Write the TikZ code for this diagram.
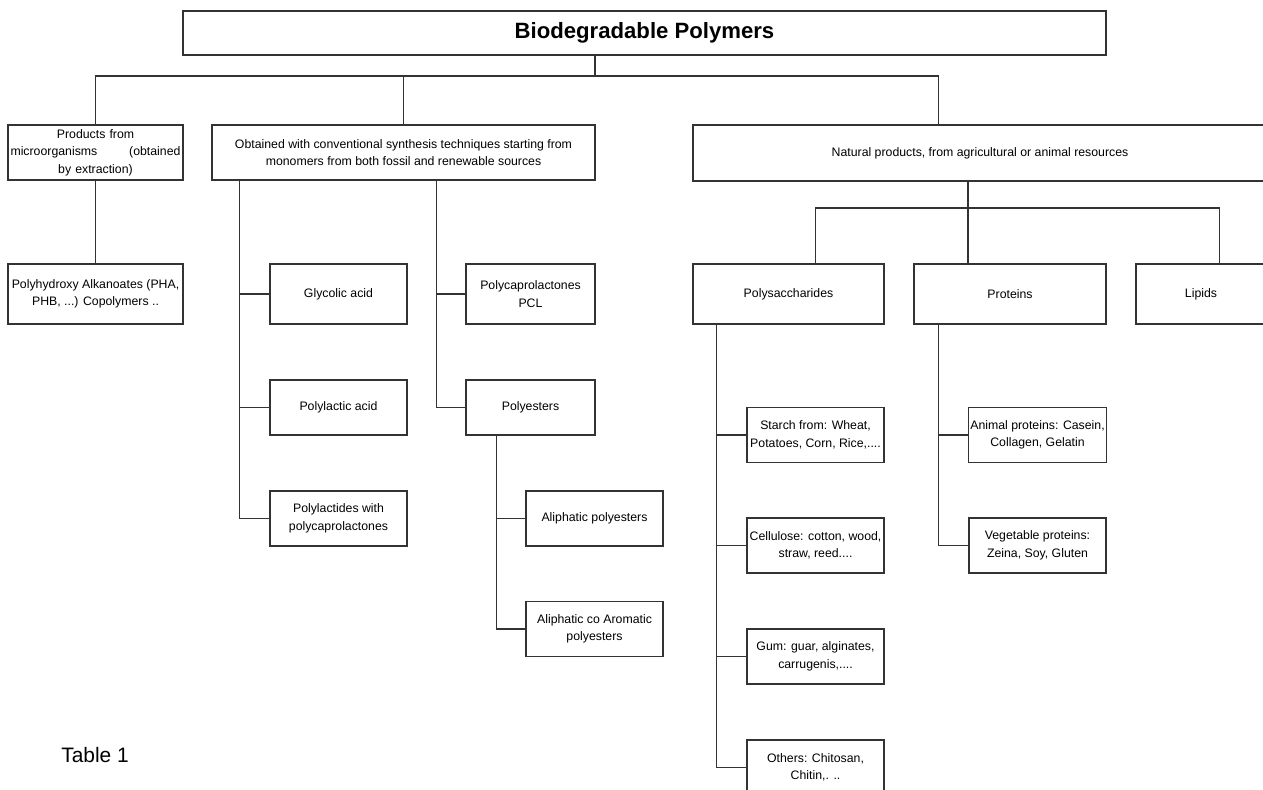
\documentclass[tikz,border=0pt]{standalone}
\usepackage{fontspec}
\setmainfont{Liberation Sans}

\begin{document}
\begin{tikzpicture}[x=0.02cm, y=-0.02cm, line width=0.75pt, draw=black!80,
    box/.style={draw=black!80, line width=0.75pt, align=center, inner sep=1pt,
      font=\fontsize{7}{9.9}\selectfont},
    leaf/.style={box, minimum width=2.74cm, minimum height=1.1cm}]
  \useasboundingbox (0,0) rectangle (1263,790);
  \clip (0,0) rectangle (1263,790);

  % top
  \node[box, minimum width=18.46cm, minimum height=0.88cm,
    font=\fontsize{12.6}{15}\selectfont\bfseries] (title) at (644.5,33) {Biodegradable Polymers};
  \coordinate (bus) at (595,76);

  % first level
  \node[box, minimum width=3.5cm, minimum height=1.1cm, text width=3.4cm] (prod) at (95.5,152.5)
    {Products from\\ microorganisms\hfill(obtained\\ by extraction)};
  \node[box, minimum width=7.66cm, minimum height=1.1cm] (synth) at (403.5,152.5)
    {Obtained with conventional synthesis techniques starting from\\ monomers from both fossil and renewable sources};
  \node[box, minimum width=11.48cm, minimum height=1.12cm] (natural) at (980,153)
    {Natural products, from agricultural or animal resources};

  % microorganisms
  \node[box, minimum width=3.5cm, minimum height=1.2cm] (pha) at (95.5,294)
    {Polyhydroxy Alkanoates (PHA,\\ PHB, ...) Copolymers ..};

  % synthesis
  \node[box, minimum width=2.74cm, minimum height=1.2cm] (glyc) at (338.5,294) {Glycolic acid};
  \node[leaf] (pla) at (338.5,407.5) {Polylactic acid};
  \node[leaf] (plpcl) at (338.5,518.5) {Polylactides with\\ polycaprolactones};
  \node[box, minimum width=2.58cm, minimum height=1.2cm] (pcl) at (530.5,294) {Polycaprolactones\\ PCL};
  \node[box, minimum width=2.58cm, minimum height=1.1cm] (polyest) at (530.5,407.5) {Polyesters};
  \node[leaf] (aliph) at (594.5,518.5) {Aliphatic polyesters};
  \node[leaf] (arom) at (594.5,629) {Aliphatic co Aromatic\\ polyesters};

  % natural
  \node[box, minimum width=3.82cm, minimum height=1.2cm] (polysac) at (788.5,294) {Polysaccharides};
  \node[box, minimum width=3.84cm, minimum height=1.2cm] (prot) at (1010,294) {Proteins};
  \node[box, minimum width=2.6cm, minimum height=1.2cm] (lipids) at (1201,294) {Lipids};
  \coordinate (nbus) at (968,208);

  \node[leaf] (starch) at (815.5,435) {Starch from: Wheat,\\ Potatoes, Corn, Rice,....};
  \node[leaf] (cellu) at (815.5,545.5) {Cellulose: cotton, wood,\\ straw, reed....};
  \node[leaf] (gum) at (815.5,656.5) {Gum: guar, alginates,\\ carrugenis,....};
  \node[leaf] (others) at (815.5,767.5) {Others: Chitosan,\\ Chitin,. ..};
  \node[leaf] (animal) at (1037.5,435) {Animal proteins: Casein,\\ Collagen, Gelatin};
  \node[leaf] (veget) at (1037.5,545.5) {Vegetable proteins:\\ Zeina, Soy, Gluten};

  \node[font=\fontsize{11.9}{14}\selectfont] (tab) at (95,755) {Table 1};

  % connectors
  \draw (title.south -| bus) -- (bus);
  \draw (prod.north) |- (bus);
  \draw (synth.north) -- (synth.north |- bus);
  \draw (bus) -| ([xshift=4.92cm]natural.north west);
  \draw (prod) -- (pha);

  \foreach \n in {glyc,pla,plpcl}
    \draw ([xshift=0.56cm]synth.south west) |- (\n.west);
  \foreach \n in {pcl,polyest}
    \draw ([xshift=4.5cm]synth.south west) |- (\n.west);
  \foreach \n in {aliph,arom}
    \draw ([xshift=0.62cm]polyest.south west) |- (\n.west);

  \draw (natural.south -| nbus) -- (prot.north -| nbus);
  \draw ([xshift=2.46cm]polysac.north west) |- (nbus) -| ([xshift=1.68cm]lipids.north west);
  \foreach \n in {starch,cellu,gum,others}
    \draw ([xshift=0.48cm]polysac.south west) |- (\n.west);
  \foreach \n in {animal,veget}
    \draw ([xshift=0.5cm]prot.south west) |- (\n.west);
\end{tikzpicture}
\end{document}
